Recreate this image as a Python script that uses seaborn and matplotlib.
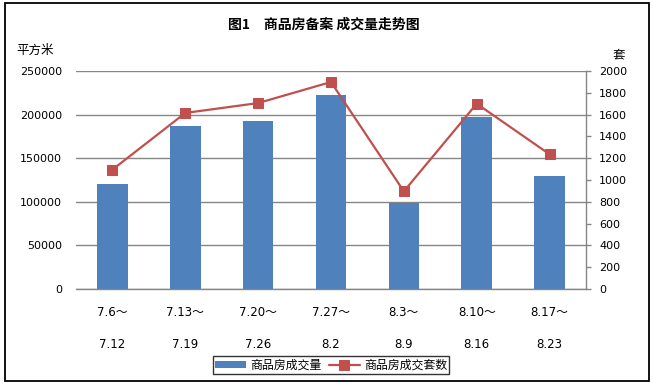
import matplotlib
matplotlib.use("Agg")
import matplotlib.pyplot as plt
from matplotlib.patches import Rectangle
import seaborn as sns
import numpy as np
import pandas as pd

# ---- data ----
week_start = ["7.6～", "7.13～", "7.20～", "7.27～", "8.3～", "8.10～", "8.17～"]
week_end = ["7.12", "7.19", "7.26", "8.2", "8.9", "8.16", "8.23"]
area = [120500, 187000, 192700, 222400, 99000, 197200, 129600]   # 商品房成交量 (平方米)
units = [1095, 1615, 1706, 1899, 896, 1700, 1236]               # 商品房成交套数 (套)
left_ticks = [0, 50000, 100000, 150000, 200000, 250000]
right_ticks = [0, 200, 400, 600, 800, 1000, 1200, 1400, 1600, 1800, 2000]

title = "图1　商品房备案 成交量走势图"
bar_name = "商品房成交量"
line_name = "商品房成交套数"

sns.set_theme(style="white")
plt.rcParams["font.family"] = ["DejaVu Sans", "Noto Sans CJK SC"]
plt.rcParams["text.color"] = "black"
plt.rcParams["axes.labelcolor"] = "black"
plt.rcParams["xtick.color"] = "black"
plt.rcParams["ytick.color"] = "black"

BLUE = "#4F81BD"
RED = "#C0504D"
GRID = "#868686"
CJK = ["Noto Sans CJK SC", "DejaVu Sans"]

W, H = 653, 385
fig = plt.figure(figsize=(W / 100, H / 100), dpi=100)
fig.patch.set_facecolor("white")

L, R, T, B = 76, 586, 71, 289
ax = fig.add_axes([L / W, 1 - B / H, (R - L) / W, (B - T) / H])

labels = [f"{a}\n{b}" for a, b in zip(week_start, week_end)]
df = pd.DataFrame({"week": labels, "area": area, "units": units})

sns.barplot(data=df, x="week", y="area", ax=ax, color=BLUE, width=0.42,
            saturation=1, edgecolor="none", label=bar_name, zorder=2)
ax.set_xlim(-0.5, len(labels) - 0.5)
ax.set_ylim(0, 250000)
ax.set_yticks(left_ticks)
ax.set_yticklabels([str(v) for v in left_ticks])
ax.yaxis.grid(True, color=GRID, linewidth=1.0)
ax.set_axisbelow(True)
ax.set_xlabel("")
ax.set_ylabel("")
for s in ["left", "top", "right"]:
    ax.spines[s].set_visible(False)
ax.spines["bottom"].set_color(GRID)
ax.spines["bottom"].set_linewidth(1.0)
ax.tick_params(axis="y", length=0, pad=10, labelsize=8, labelcolor="black")
ax.tick_params(axis="x", length=0, pad=12, labelsize=8.5, labelcolor="black")
for t in ax.get_xticklabels():
    t.set_linespacing(2.95)

ax2 = ax.twinx()
sns.lineplot(x=np.arange(len(units)), y=units, ax=ax2, color=RED, linewidth=1.6,
             marker="s", markersize=7.5, markeredgecolor=RED, label=line_name)
ax2.set_ylim(0, 2000)
ax2.set_yticks(right_ticks)
ax2.set_yticklabels([str(v) for v in right_ticks])
ax2.set_xlim(-0.5, len(labels) - 0.5)
ax2.set_ylabel("")
for s in ["left", "top", "bottom"]:
    ax2.spines[s].set_visible(False)
ax2.spines["right"].set_color(GRID)
ax2.spines["right"].set_linewidth(1.0)
ax2.tick_params(axis="y", length=3.5, width=1, color=GRID, pad=6,
                labelsize=8, labelcolor="black", direction="out")
ax2.grid(False)

# legend
h1, l1 = ax.get_legend_handles_labels()
h2, l2 = ax2.get_legend_handles_labels()
if ax.get_legend():
    ax.get_legend().remove()
if ax2.get_legend():
    ax2.get_legend().remove()
leg = fig.legend(h1 + h2, l1 + l2, loc="center", bbox_to_anchor=(331 / W, 1 - 365 / H),
                 ncol=2, frameon=True, fancybox=False,
                 prop={"family": CJK, "size": 8.6},
                 handlelength=2.6, handleheight=0.5, columnspacing=0.6,
                 handletextpad=0.35, borderpad=0.2, borderaxespad=0)
leg.get_frame().set_edgecolor("black")
leg.get_frame().set_linewidth(1.0)

# titles
fig.text(324 / W, 1 - 25 / H, title, ha="center", va="center", fontsize=10,
         fontweight="bold", family=CJK, color="black")
fig.text(16 / W, 1 - 50 / H, "平方米", ha="left", va="center", fontsize=9,
         family=CJK, color="black")
fig.text(619 / W, 1 - 55 / H, "套", ha="center", va="center", fontsize=9,
         family=CJK, color="black")

# outer border
fig.patches.append(Rectangle((5 / W, 4 / H), 644 / W, 378 / H, transform=fig.transFigure,
                             fill=False, edgecolor="black", linewidth=1.3))

fig.savefig("out.png", dpi=100, facecolor="white")
